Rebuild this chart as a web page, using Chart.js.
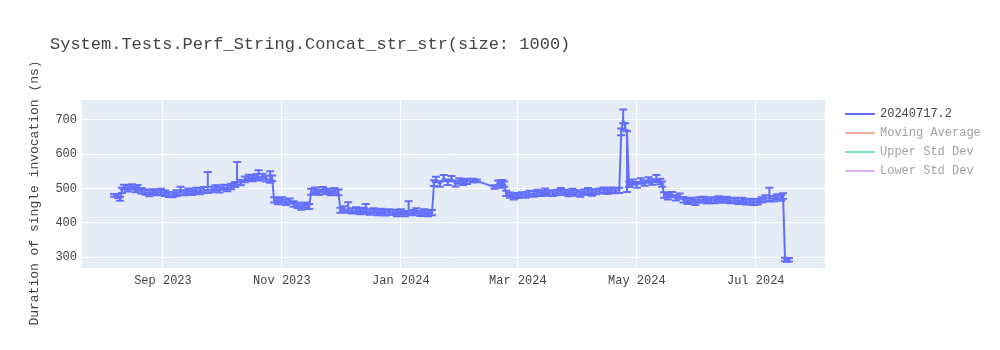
<!DOCTYPE html>
<html><head><meta charset="utf-8">
<script src="https://cdn.jsdelivr.net/npm/chart.js@4.4.0/dist/chart.umd.min.js"></script>
<style>
html,body{margin:0;padding:0;background:#fff;}
#wrap{position:relative;width:1000px;height:350px;font-family:"Courier New","Liberation Mono",monospace;color:#444;}
#c{position:absolute;left:0;top:0;}
#title{position:absolute;left:50px;top:34px;font-size:17px;white-space:nowrap;line-height:22px;}
.li{position:absolute;left:845px;height:19px;font-size:12px;white-space:nowrap;line-height:19px;}
.li span.sw{position:absolute;left:0;top:8px;width:30px;height:2px;}
.li span.tx{position:absolute;left:35px;top:0;}
</style></head>
<body><div id="wrap">
<canvas id="c" width="1000" height="350"></canvas>
<div id="title">System.Tests.Perf_String.Concat_str_str(size: 1000)</div>
<div id="legend"></div>
</div>
<script>
const yAxisTitle = "Duration of single invocation (ns)";
const seriesNames = ["20240717.2","Moving Average","Upper Std Dev","Lower Std Dev"];
const seriesColors = ["#636efa","#f7aa9d","#80e6cb","#d5b1fd"];
const legendTextColors = ["#444","#a2a2a2","#a2a2a2","#a2a2a2"];
const xTickDates = ["2023-09-01","2023-11-01","2024-01-01","2024-03-01","2024-05-01","2024-07-01"];
const xTickLabels = ["Sep 2023","Nov 2023","Jan 2024","Mar 2024","May 2024","Jul 2024"];
const yTicks = [300,400,500,600,700];

const dates = [
"2023-08-07","2023-08-09","2023-08-10","2023-08-11","2023-08-12","2023-08-14","2023-08-16","2023-08-18","2023-08-19","2023-08-21",
"2023-08-23","2023-08-25","2023-08-27","2023-08-29","2023-08-31","2023-09-02","2023-09-04","2023-09-06","2023-09-08","2023-09-10",
"2023-09-12","2023-09-14","2023-09-16","2023-09-18","2023-09-20","2023-09-22","2023-09-24","2023-09-26","2023-09-28","2023-09-30",
"2023-10-02","2023-10-04","2023-10-06","2023-10-08","2023-10-09","2023-10-11","2023-10-13","2023-10-15","2023-10-17","2023-10-19",
"2023-10-20","2023-10-22","2023-10-24","2023-10-26","2023-10-27","2023-10-28","2023-10-30","2023-11-01","2023-11-03","2023-11-05",
"2023-11-07","2023-11-09","2023-11-11","2023-11-13","2023-11-15","2023-11-16","2023-11-18","2023-11-20","2023-11-22","2023-11-24",
"2023-11-26","2023-11-28","2023-11-30","2023-12-01","2023-12-03","2023-12-05","2023-12-07","2023-12-09","2023-12-11","2023-12-13",
"2023-12-14","2023-12-16","2023-12-18","2023-12-20","2023-12-22","2023-12-24","2023-12-26","2023-12-28","2023-12-30","2024-01-01",
"2024-01-03","2024-01-05","2024-01-07","2024-01-09","2024-01-11","2024-01-13","2024-01-15","2024-01-17","2024-01-18","2024-01-19",
"2024-01-21","2024-01-23","2024-01-25","2024-01-27","2024-01-29","2024-01-31","2024-02-02","2024-02-04","2024-02-07","2024-02-09",
"2024-02-18","2024-02-20","2024-02-21","2024-02-22","2024-02-23","2024-02-24","2024-02-26","2024-02-28","2024-03-01","2024-03-03",
"2024-03-05","2024-03-07","2024-03-09","2024-03-11","2024-03-13","2024-03-15","2024-03-17","2024-03-19","2024-03-21","2024-03-23",
"2024-03-25","2024-03-27","2024-03-29","2024-03-31","2024-04-02","2024-04-04","2024-04-06","2024-04-08","2024-04-10","2024-04-12",
"2024-04-14","2024-04-16","2024-04-18","2024-04-20","2024-04-22","2024-04-23","2024-04-24","2024-04-25","2024-04-26","2024-04-27",
"2024-04-29","2024-05-01","2024-05-03","2024-05-05","2024-05-07","2024-05-09","2024-05-11","2024-05-13","2024-05-14","2024-05-15",
"2024-05-17","2024-05-19","2024-05-21","2024-05-23","2024-05-25","2024-05-27","2024-05-29","2024-05-31","2024-06-02","2024-06-04",
"2024-06-06","2024-06-08","2024-06-10","2024-06-12","2024-06-14","2024-06-16","2024-06-18","2024-06-20","2024-06-22","2024-06-24",
"2024-06-26","2024-06-28","2024-06-30","2024-07-02","2024-07-04","2024-07-06","2024-07-08","2024-07-10","2024-07-12","2024-07-14",
"2024-07-15","2024-07-16","2024-07-17","2024-07-18"
];
const values = [
480,477,470,494,504,499,505,496,503,493,
489,485,491,487,490,486,483,481,486,490,
487,492,489,494,491,496,495,497,500,496,
503,500,506,511,519,517,526,532,529,534,
531,535,528,525,530,466,462,465,460,464,
455,450,446,452,447,490,495,488,496,492,
487,493,488,436,440,437,434,438,433,436,
434,431,435,430,433,429,432,430,427,431,
427,433,429,434,428,431,427,429,515,526,
512,530,518,528,514,522,517,521,523,522,
504,515,510,518,512,486,480,476,479,482,
480,485,483,488,486,491,487,485,489,492,
488,485,490,487,484,489,492,487,490,493,
495,491,496,493,495,665,700,680,655,512,
518,510,522,515,525,518,527,520,512,481,
475,482,472,478,467,462,466,460,465,468,
463,467,465,469,466,468,464,466,463,465,
461,462,459,461,466,470,472,470,475,472,
478,293,291,292
];
const errPlus = [
4,6,6,8,7,9,7,8,7,8,
8,9,7,8,9,8,7,8,9,15,
8,8,7,8,9,8,53,8,9,8,
8,9,8,8,58,8,9,8,8,8,
22,8,9,25,8,8,8,9,8,7,
8,8,8,7,8,9,8,8,8,7,
8,8,9,8,8,23,8,7,8,8,
21,8,7,8,8,8,7,8,8,8,
7,30,8,8,7,8,8,8,9,8,
8,9,8,8,9,8,8,7,5,4,
5,8,7,7,8,7,8,7,8,7,
8,8,9,8,7,9,8,8,7,9,
8,8,9,8,7,8,9,8,8,7,
8,8,7,8,7,10,30,10,12,8,
8,9,8,8,8,9,12,8,8,8,
9,8,8,7,8,8,7,8,9,8,
8,7,8,8,7,8,8,7,8,8,
7,8,8,8,8,10,30,8,8,9,
8,5,5,5
];
const errMinus = [
4,5,6,7,7,8,8,7,9,8,
7,8,8,7,8,8,8,7,8,8,
7,8,8,7,8,7,8,8,7,8,
7,8,8,7,8,8,8,7,8,7,
8,8,8,8,8,7,8,7,8,8,
8,7,8,8,7,8,8,7,8,8,
7,8,8,7,8,8,7,8,8,7,
8,8,7,8,7,8,8,7,8,7,
8,8,7,8,8,7,8,7,8,8,
7,8,8,7,8,8,7,8,5,4,
5,7,8,7,7,8,7,8,7,8,
7,8,7,8,8,7,8,7,8,8,
7,8,7,8,8,7,8,8,7,8,
8,7,8,7,8,10,10,10,165,8,
7,8,8,7,8,7,8,8,7,8,
7,8,7,8,8,7,8,8,7,8,
7,8,8,7,8,8,7,8,8,7,
8,8,7,8,7,8,8,8,7,8,
8,5,5,5
];

const xMin = Date.parse("2023-07-21T12:00:00Z");
const xMax = Date.parse("2024-08-05T12:00:00Z");
const yMin = 268, yMax = 758;
const FONT = '"Courier New","Liberation Mono",monospace';

// legend
const lg = document.getElementById('legend');
seriesNames.forEach((n,i)=>{
  const d = document.createElement('div'); d.className='li'; d.style.top=(105+i*19)+'px';
  d.innerHTML = '<span class="sw" style="background:'+seriesColors[i]+'"></span><span class="tx" style="color:'+legendTextColors[i]+'">'+n+'</span>';
  lg.appendChild(d);
});

const ts = dates.map(d=>Date.parse(d));

const bgPlugin = {id:'bg', beforeDraw(chart){const {ctx, chartArea:a}=chart; ctx.save(); ctx.fillStyle='#e5ecf6'; ctx.fillRect(a.left,a.top,a.right-a.left,a.bottom-a.top); ctx.restore();}};
const errPlugin = {id:'err', beforeDatasetsDraw(chart){
  const {ctx, chartArea:a} = chart; const xs = chart.scales.x, ys = chart.scales.y;
  ctx.save(); ctx.beginPath(); ctx.rect(a.left,a.top,a.right-a.left,a.bottom-a.top); ctx.clip();
  ctx.strokeStyle = seriesColors[0]; ctx.lineWidth = 2;
  for(let i=0;i<ts.length;i++){
    const px = xs.getPixelForValue(ts[i]);
    const t = ys.getPixelForValue(values[i]+errPlus[i]);
    const b = ys.getPixelForValue(values[i]-errMinus[i]);
    ctx.beginPath();
    ctx.moveTo(px,t); ctx.lineTo(px,b);
    ctx.moveTo(px-4,t); ctx.lineTo(px+4,t);
    ctx.moveTo(px-4,b); ctx.lineTo(px+4,b);
    ctx.stroke();
  }
  ctx.restore();
}};
// y-axis title drawn on the canvas, centred on the full figure height like the reference
const yTitlePlugin = {id:'ytitle', afterDraw(chart){
  const ctx = chart.ctx; ctx.save();
  ctx.translate(35, 193); ctx.rotate(-Math.PI/2);
  ctx.font = '13px ' + FONT; ctx.fillStyle = '#444'; ctx.textAlign='center'; ctx.textBaseline='middle';
  ctx.fillText(yAxisTitle, 0, 0); ctx.restore();
}};

new Chart(document.getElementById('c'), {
  type:'line',
  data:{datasets:[{label:seriesNames[0], data: ts.map((t,i)=>({x:t,y:values[i]})), borderColor:seriesColors[0], backgroundColor:seriesColors[0], borderWidth:2, pointRadius:0, tension:0, fill:false}]},
  options:{
    responsive:false, animation:false, events:[],
    layout:{padding:{left:0,top:100,right:175,bottom:52}},
    plugins:{legend:{display:false}, tooltip:{enabled:false}},
    scales:{
      x:{type:'linear', min:xMin, max:xMax,
        afterBuildTicks(s){ s.ticks = xTickDates.map(d=>({value:Date.parse(d)})); },
        afterFit(s){ s.height = 30; },
        ticks:{callback:(v,i)=>xTickLabels[i], font:{family:FONT,size:12}, color:'#444', padding:6, maxRotation:0, autoSkip:false},
        grid:{color:'#ffffff', lineWidth:1, drawTicks:false}, border:{display:false}},
      y:{type:'linear', min:yMin, max:yMax,
        afterBuildTicks(s){ s.ticks = yTicks.map(v=>({value:v})); },
        afterFit(s){ s.width = 82; },
        ticks:{font:{family:FONT,size:12}, color:'#444', padding:5},
        grid:{color:'#ffffff', lineWidth:1, drawTicks:false}, border:{display:false}}
    }
  },
  plugins:[bgPlugin, errPlugin, yTitlePlugin]
});
</script>
</body></html>
